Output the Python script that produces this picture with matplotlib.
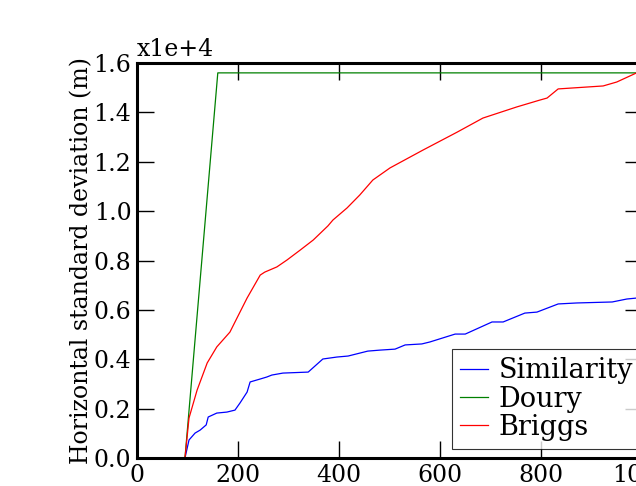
import matplotlib
matplotlib.use("Agg")
import matplotlib.pyplot as plt
from matplotlib.ticker import FuncFormatter, MultipleLocator

# --- data (distance in m, sigma in m) ---
sim_x = [95, 103, 115, 125, 137, 141, 158, 178, 194, 204, 218, 224, 244, 257, 267, 289, 339,
         368, 396, 418, 457, 481, 511, 531, 564, 580, 630, 650, 703, 725, 768, 792, 834,
         871, 941, 970, 1000]
sim_y = [0, 730, 1010, 1130, 1340, 1660, 1820, 1860, 1940, 2230, 2670, 3080, 3200, 3280, 3360,
         3440, 3480, 4010, 4090, 4130, 4330, 4370, 4410, 4580, 4620, 4700, 5020, 5020, 5510,
         5510, 5870, 5910, 6240, 6280, 6320, 6440, 6500]

doury_x = [95, 160, 1000]
doury_y = [0, 15600, 15600]

briggs_x = [95, 103, 119, 139, 158, 184, 198, 218, 244, 253, 277, 297, 323, 349, 378, 388,
            416, 441, 467, 501, 566, 634, 685, 752, 798, 812, 834, 923, 950, 1000]
briggs_y = [0, 1620, 2750, 3850, 4500, 5100, 5670, 6480, 7410, 7530, 7740, 8020, 8420, 8830,
            9400, 9640, 10130, 10650, 11260, 11750, 12470, 13200, 13770, 14220, 14500, 14580,
            14950, 15070, 15230, 15700]

FS = 17
LEG_FS = 19.5

fig = plt.figure(figsize=(6.36, 4.86), dpi=100)
ax = fig.add_axes([137 / 636, 28 / 486, 505 / 636, 395 / 486])

ax.plot(sim_x, sim_y, color=(0, 0, 1), lw=0.9, label="Similarity")
ax.plot(doury_x, doury_y, color=(0, 0.5, 0), lw=0.9, label="Doury")
ax.plot(briggs_x, briggs_y, color=(1, 0, 0), lw=0.9, label="Briggs")

ax.set_xlim(0, 1000)
ax.set_ylim(0, 16000)
ax.xaxis.set_major_locator(MultipleLocator(200))
ax.yaxis.set_major_locator(MultipleLocator(2000))
ax.yaxis.set_major_formatter(FuncFormatter(lambda v, _: f"{v / 1e4:.1f}"))
ax.tick_params(direction="in", length=12, width=1, top=True, right=True,
               labelsize=FS, pad=4)
for lab in ax.get_xticklabels() + ax.get_yticklabels():
    lab.set_family("DejaVu Serif")
for sp in ax.spines.values():
    sp.set_linewidth(2.2)

ax.text(0.0, 1.006, "x1e+4", transform=ax.transAxes, ha="left", va="bottom",
        fontsize=FS, family="DejaVu Serif")
ax.set_ylabel("Horizontal standard deviation (m)", fontsize=FS, family="DejaVu Serif",
              labelpad=0)

leg = ax.legend(loc="lower right", bbox_to_anchor=(0.998, 0.0228), fancybox=False,
                prop={"family": "DejaVu Serif", "size": LEG_FS},
                handlelength=1.0, borderpad=0.3, labelspacing=0.05, handletextpad=0.4,
                borderaxespad=0)
leg.get_frame().set_edgecolor("black")
leg.get_frame().set_linewidth(0.8)

fig.savefig("out.png", dpi=100)
